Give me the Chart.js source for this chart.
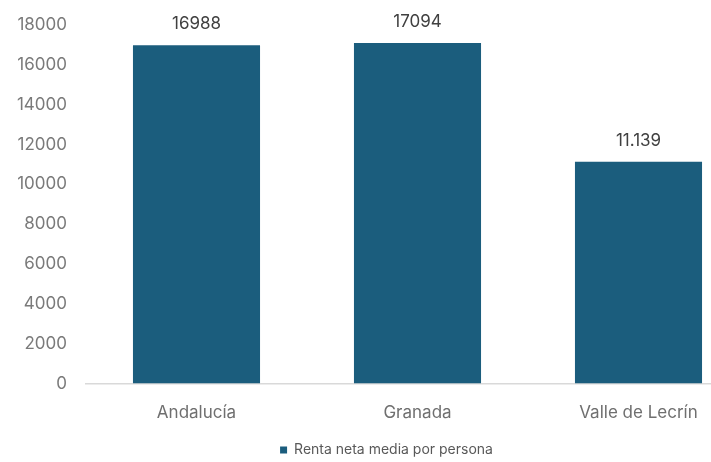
<!DOCTYPE html>
<html>
<head>
<meta charset="utf-8">
<script src="https://cdn.jsdelivr.net/npm/chart.js@4"></script>
<style>
  html, body { margin: 0; padding: 0; background: #ffffff; overflow: hidden; }
  #wrap { width: 773px; height: 467px; }
</style>
</head>
<body>
<div id="wrap"><canvas id="c" width="773" height="467"></canvas></div>
<script>
const categories = ["Andalucía", "Granada", "Valle de Lecrín"];
const seriesName = "Renta neta media por persona";
const values = [16988, 17094, 11139];
const valueLabels = ["16988", "17094", "11.139"];
const yTicks = [0, 2000, 4000, 6000, 8000, 10000, 12000, 14000, 16000, 18000];

const FONT = "Inter, 'Noto Sans', sans-serif";

const valueLabelPlugin = {
  id: 'valueLabels',
  afterDatasetsDraw(chart) {
    const ctx = chart.ctx;
    const meta = chart.getDatasetMeta(0);
    ctx.save();
    ctx.font = "17px " + FONT;
    ctx.fillStyle = "#404040";
    ctx.textAlign = "center";
    ctx.textBaseline = "middle";
    meta.data.forEach((bar, i) => {
      ctx.fillText(valueLabels[i], bar.x, bar.y - 21);
    });
    ctx.restore();
  }
};

new Chart(document.getElementById('c'), {
  type: 'bar',
  data: {
    labels: categories,
    datasets: [{
      label: seriesName,
      data: values,
      backgroundColor: '#1b5d7d',
      borderWidth: 0,
      barPercentage: 0.575,
      categoryPercentage: 1.0
    }]
  },
  options: {
    responsive: false,
    animation: false,
    layout: { padding: { top: 25, left: 0, right: 0, bottom: 0 } },
    plugins: {
      legend: {
        position: 'bottom',
        labels: {
          boxWidth: 7,
          boxHeight: 7,
          color: '#595959',
          font: { family: FONT, size: 14 },
          padding: 1
        }
      },
      tooltip: { enabled: false }
    },
    scales: {
      x: {
        afterFit(scale) { scale.paddingLeft = 0; scale.paddingRight = 24; },
        grid: { display: false, drawTicks: false },
        border: { display: true, color: '#d9d9d9', width: 1.5 },
        ticks: { color: '#6f6f6f', font: { family: FONT, size: 17 }, padding: 19 }
      },
      y: {
        min: 0,
        max: 18000,
        afterFit(scale) { scale.width = 86; scale.paddingTop = 0; scale.paddingBottom = 0; },
        afterBuildTicks(scale) { scale.ticks = yTicks.map(v => ({ value: v })); },
        grid: { display: false, drawTicks: false },
        border: { display: false },
        ticks: {
          color: '#7a7a7a',
          font: { family: FONT, size: 17 },
          padding: 19,
          callback: (v) => String(v)
        }
      }
    }
  },
  plugins: [valueLabelPlugin]
});
</script>
</body>
</html>
